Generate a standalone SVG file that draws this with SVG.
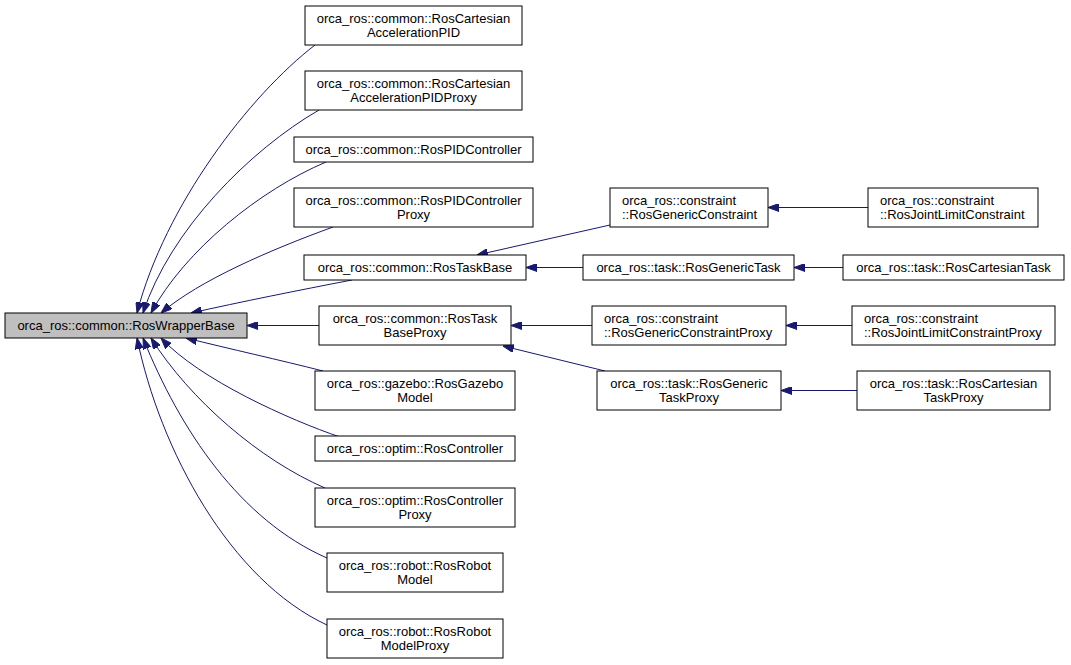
<svg xmlns="http://www.w3.org/2000/svg" width="1071" height="665" viewBox="0 0 1071 665">
<defs>
<marker id="arr" viewBox="0 0 11 8" refX="11" refY="4" markerWidth="11" markerHeight="8" markerUnits="userSpaceOnUse" orient="auto">
<path d="M0,0 L11,4 L0,8 z" fill="#191970" stroke="#191970" stroke-width="1"/>
</marker>
</defs>
<style>
.n rect{fill:#ffffff;stroke:#000000;stroke-width:1}
.n.root rect{fill:#bfbfbf}
.n text{font-family:"Liberation Sans",Arial,Helvetica,sans-serif;font-size:13px;fill:#000000;text-anchor:middle}
.n text.l{text-anchor:start}
#edges path{fill:none;stroke:#191970;stroke-width:1;marker-end:url(#arr)}
</style>
<rect x="0" y="0" width="1071" height="665" fill="#ffffff"/>
<g id="edges">
<path d="M315,45 C250,95 165,205 137,313"/>
<path d="M319,110 C250,150 170,230 143,313"/>
<path d="M326,162 C260,190 185,250 151,313"/>
<path d="M333,227 C270,250 200,280 161,313"/>
<path d="M352,280 C300,290 240,302 191,313"/>
<path d="M319,325.5 L247,325.5"/>
<path d="M323,371 C280,360 230,349 186,338"/>
<path d="M340,437 C290,420 200,380 161,338"/>
<path d="M325,488 C260,460 190,400 151,338"/>
<path d="M327,558 C240,520 180,430 143,338"/>
<path d="M327,625 C230,580 160,450 137,338"/>
<path d="M610,225 L477,255"/>
<path d="M583,267.5 L526,267.5"/>
<path d="M592,325.5 L511,325.5"/>
<path d="M605,371 L503,346"/>
<path d="M868,207.5 L768,207.5"/>
<path d="M843,267.5 L794,267.5"/>
<path d="M852,325.5 L786,325.5"/>
<path d="M857,390.5 L781,390.5"/>
</g>
<g id="root" class="n root"><rect x="5" y="313" width="242" height="25"/><text x="126" y="330">orca_ros::common::RosWrapperBase</text></g>
<g id="n1" class="n"><rect x="305" y="6" width="217" height="39"/><text x="413.5" y="23">orca_ros::common::RosCartesian</text><text x="413.5" y="37">AccelerationPID</text></g>
<g id="n2" class="n"><rect x="305" y="71" width="217" height="39"/><text x="413.5" y="88">orca_ros::common::RosCartesian</text><text x="413.5" y="102">AccelerationPIDProxy</text></g>
<g id="n3" class="n"><rect x="294" y="137" width="239" height="25"/><text x="413.5" y="154">orca_ros::common::RosPIDController</text></g>
<g id="n4" class="n"><rect x="294" y="188" width="239" height="39"/><text x="413.5" y="205">orca_ros::common::RosPIDController</text><text x="413.5" y="219">Proxy</text></g>
<g id="n5" class="n"><rect x="304" y="255" width="222" height="25"/><text x="415" y="272">orca_ros::common::RosTaskBase</text></g>
<g id="n6" class="n"><rect x="319" y="306" width="192" height="39"/><text x="415" y="323">orca_ros::common::RosTask</text><text x="415" y="337">BaseProxy</text></g>
<g id="n7" class="n"><rect x="315" y="371" width="200" height="39"/><text x="415" y="388">orca_ros::gazebo::RosGazebo</text><text x="415" y="402">Model</text></g>
<g id="n8" class="n"><rect x="315" y="436" width="200" height="25"/><text x="415" y="453">orca_ros::optim::RosController</text></g>
<g id="n9" class="n"><rect x="315" y="488" width="200" height="39"/><text x="415" y="505">orca_ros::optim::RosController</text><text x="415" y="519">Proxy</text></g>
<g id="n10" class="n"><rect x="327" y="553" width="176" height="39"/><text x="415" y="570">orca_ros::robot::RosRobot</text><text x="415" y="584">Model</text></g>
<g id="n11" class="n"><rect x="327" y="619" width="176" height="39"/><text x="415" y="636">orca_ros::robot::RosRobot</text><text x="415" y="650">ModelProxy</text></g>
<g id="n12" class="n"><rect x="610" y="188" width="158" height="39"/><text class="l" x="622" y="205">orca_ros::constraint</text><text class="l" x="622" y="219">::RosGenericConstraint</text></g>
<g id="n13" class="n"><rect x="583" y="255" width="211" height="25"/><text x="688.5" y="272">orca_ros::task::RosGenericTask</text></g>
<g id="n14" class="n"><rect x="592" y="306" width="194" height="39"/><text class="l" x="604" y="323">orca_ros::constraint</text><text class="l" x="604" y="337">::RosGenericConstraintProxy</text></g>
<g id="n15" class="n"><rect x="597" y="371" width="184" height="39"/><text x="689" y="388">orca_ros::task::RosGeneric</text><text x="689" y="402">TaskProxy</text></g>
<g id="n16" class="n"><rect x="868" y="188" width="170" height="39"/><text class="l" x="880" y="205">orca_ros::constraint</text><text class="l" x="880" y="219">::RosJointLimitConstraint</text></g>
<g id="n17" class="n"><rect x="843" y="255" width="221" height="25"/><text x="953.5" y="272">orca_ros::task::RosCartesianTask</text></g>
<g id="n18" class="n"><rect x="852" y="306" width="203" height="39"/><text class="l" x="864" y="323">orca_ros::constraint</text><text class="l" x="864" y="337">::RosJointLimitConstraintProxy</text></g>
<g id="n19" class="n"><rect x="857" y="371" width="193" height="39"/><text x="953.5" y="388">orca_ros::task::RosCartesian</text><text x="953.5" y="402">TaskProxy</text></g>
</svg>
